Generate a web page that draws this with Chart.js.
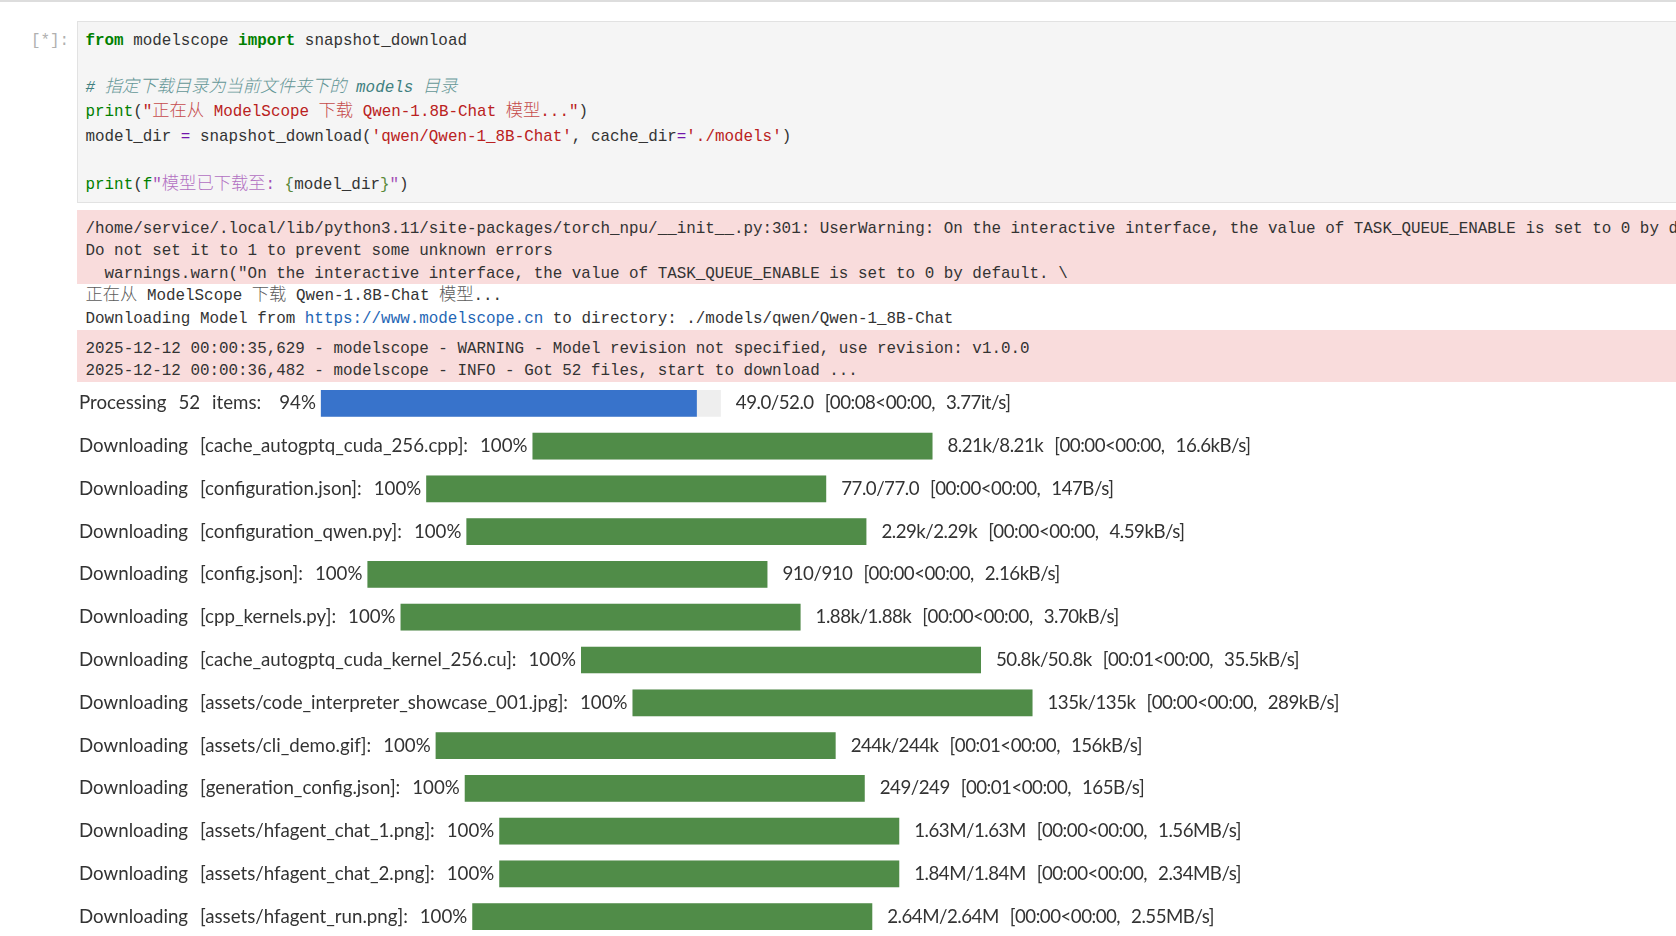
<!DOCTYPE html>
<html><head><meta charset="utf-8">
<style>
html,body{margin:0;padding:0;width:1676px;height:936px;overflow:hidden;background:#fff}
#top{position:absolute;left:0;top:0;width:1676px;height:2px;background:#ddd}
#prompt{position:absolute;left:31px;top:28.5px;font:15.9px/24px "Liberation Mono",monospace;color:#b0b0b0;white-space:pre}
#codebox{position:absolute;left:76.5px;top:21px;width:1600px;height:181.5px;background:#f5f5f5;border:1px solid #e2e2e2;box-sizing:border-box}
.pink{position:absolute;left:76.5px;width:1600px;background:#f9dcdc}
.l{position:absolute;left:85.5px;height:24px;font:15.9px/24px "Liberation Mono",monospace;color:#333;white-space:pre}
.cjk{font-family:"Noto Sans CJK SC",sans-serif;font-size:17.3px;font-weight:300;line-height:0;opacity:.8}
.k{color:#008000;font-weight:bold}.b{color:#008000}.s{color:#ba2121}.c{color:#408080;font-style:italic}
.o{color:#7216ab}.f{color:#a34fb5}.g{color:#5a8a3a}.u{color:#1f66b5}
canvas{position:absolute;left:0;top:382px}
</style></head><body>
<div id="top"></div>
<div id="prompt">[*]:</div>
<div id="codebox"></div>
<div class="pink" style="top:209.5px;height:74.5px"></div>
<div class="pink" style="top:329.5px;height:52px"></div>
<div id="text"></div>
<canvas id="chart" width="1676" height="556"></canvas>
<script src="https://cdn.jsdelivr.net/npm/chart.js@4"></script>
<script>
// ---- data ----
const rowLabels = [
  "Processing  52  items:",
  "Downloading  [cache_autogptq_cuda_256.cpp]:",
  "Downloading  [configuration.json]:",
  "Downloading  [configuration_qwen.py]:",
  "Downloading  [config.json]:",
  "Downloading  [cpp_kernels.py]:",
  "Downloading  [cache_autogptq_cuda_kernel_256.cu]:",
  "Downloading  [assets/code_interpreter_showcase_001.jpg]:",
  "Downloading  [assets/cli_demo.gif]:",
  "Downloading  [generation_config.json]:",
  "Downloading  [assets/hfagent_chat_1.png]:",
  "Downloading  [assets/hfagent_chat_2.png]:",
  "Downloading  [assets/hfagent_run.png]:"
];
const rowPercents = [94,100,100,100,100,100,100,100,100,100,100,100,100];
const rowStats = [
  "49.0/52.0  [00:08<00:00,  3.77it/s]",
  "8.21k/8.21k  [00:00<00:00,  16.6kB/s]",
  "77.0/77.0  [00:00<00:00,  147B/s]",
  "2.29k/2.29k  [00:00<00:00,  4.59kB/s]",
  "910/910  [00:00<00:00,  2.16kB/s]",
  "1.88k/1.88k  [00:00<00:00,  3.70kB/s]",
  "50.8k/50.8k  [00:01<00:00,  35.5kB/s]",
  "135k/135k  [00:00<00:00,  289kB/s]",
  "244k/244k  [00:01<00:00,  156kB/s]",
  "249/249  [00:01<00:00,  165B/s]",
  "1.63M/1.63M  [00:00<00:00,  1.56MB/s]",
  "1.84M/1.84M  [00:00<00:00,  2.34MB/s]",
  "2.64M/2.64M  [00:00<00:00,  2.55MB/s]"
];
const codeLines = [
  [40.8,'<span class="k">from</span> modelscope <span class="k">import</span> snapshot_download'],
  [88,'<span class="c"># 指定下载目录为当前文件夹下的 models 目录</span>'],
  [111.7,'<span class="b">print</span>(<span class="s">"正在从 ModelScope 下载 Qwen-1.8B-Chat 模型..."</span>)'],
  [137.2,'model_dir <span class="o">=</span> snapshot_download(<span class="s">\'qwen/Qwen-1_8B-Chat\'</span>, cache_dir<span class="o">=</span><span class="s">\'./models\'</span>)'],
  [185,'<span class="b">print</span>(<span class="f"><span class="b">f</span>"模型已下载至: </span><span class="g">{</span>model_dir<span class="g">}</span><span class="f">"</span>)'],
  [229,'/home/service/.local/lib/python3.11/site-packages/torch_npu/__init__.py:301: UserWarning: On the interactive interface, the value of TASK_QUEUE_ENABLE is set to 0 by default.'],
  [251.3,'Do not set it to 1 to prevent some unknown errors'],
  [274,'  warnings.warn("On the interactive interface, the value of TASK_QUEUE_ENABLE is set to 0 by default. \\'],
  [295.7,'正在从 ModelScope 下载 Qwen-1.8B-Chat 模型...'],
  [318.5,'Downloading Model from <span class="u">https://www.modelscope.cn</span> to directory: ./models/qwen/Qwen-1_8B-Chat'],
  [348.7,'2025-12-12 00:00:35,629 - modelscope - WARNING - Model revision not specified, use revision: v1.0.0'],
  [371.2,'2025-12-12 00:00:36,482 - modelscope - INFO - Got 52 files, start to download ...']
];
// ---- layout / style ----
const FONT = '18.7px Lato';
const WORD_SPACING = '1.2px';
const STATS_LETTER_SPACING = '-0.5px';
const TEXT_COLOR = '#333';
const TEXT_LEFT = 79, PX_PER_PERCENT = 4, LABEL_GAP = 5, STATS_GAP = 15, TEXT_DY = 0;
const DONE_BLUE = '#3873cb', DONE_GREEN = '#508c48', TRACK = '#eeeeee';

const textHost = document.getElementById('text');
codeLines.forEach(([y, html]) => {
  const d = document.createElement('div');
  d.className = 'l';
  d.style.top = (y - 12) + 'px';
  d.innerHTML = html.replace(/[\u4e00-\u9fff]+/g, m => '<span class="cjk">' + m + '</span>');
  textHost.appendChild(d);
});

// bar starts follow the label text, as in the tqdm widget
const mctx = document.createElement('canvas').getContext('2d');
mctx.font = FONT;
mctx.wordSpacing = WORD_SPACING;
const fullLabels = rowLabels.map((t, i) => t + (i === 0 ? '   ' : '  ') + rowPercents[i] + '%');
const offsets = fullLabels.map(t => (TEXT_LEFT + mctx.measureText(t).width + LABEL_GAP) / PX_PER_PERCENT);

const rowText = {
  id: 'rowText',
  afterDatasetsDraw(chart) {
    const { ctx, scales: { x, y } } = chart;
    ctx.save();
    ctx.font = FONT;
    ctx.wordSpacing = WORD_SPACING;
    ctx.fillStyle = TEXT_COLOR;
    ctx.textBaseline = 'middle';
    ctx.textAlign = 'left';
    fullLabels.forEach((t, i) => {
      const py = y.getPixelForValue(i) + TEXT_DY;
      ctx.letterSpacing = '0px';
      ctx.fillText(t, TEXT_LEFT, py);
      ctx.letterSpacing = STATS_LETTER_SPACING;
      ctx.fillText(rowStats[i], x.getPixelForValue(offsets[i] + 100) + STATS_GAP, py);
    });
    ctx.restore();
  }
};

new Chart(document.getElementById('chart'), {
  type: 'bar',
  data: {
    labels: rowLabels,
    datasets: [
      { label: 'done', order: 1, grouped: false,
        data: rowPercents.map((p, i) => [offsets[i], offsets[i] + p]),
        backgroundColor: rowPercents.map(p => p < 100 ? DONE_BLUE : DONE_GREEN) },
      { label: 'track', order: 2, grouped: false,
        data: rowPercents.map((p, i) => [offsets[i], offsets[i] + 100]),
        backgroundColor: TRACK }
    ]
  },
  options: {
    indexAxis: 'y', responsive: false, animation: false, devicePixelRatio: 1,
    categoryPercentage: 1, barPercentage: 0.625,
    layout: { padding: 0 },
    plugins: { legend: { display: false }, tooltip: { enabled: false } },
    scales: {
      x: { type: 'linear', min: 0, max: 1676 / PX_PER_PERCENT, display: false },
      y: { type: 'category', display: false }
    }
  },
  plugins: [rowText]
});
</script>
</body></html>
